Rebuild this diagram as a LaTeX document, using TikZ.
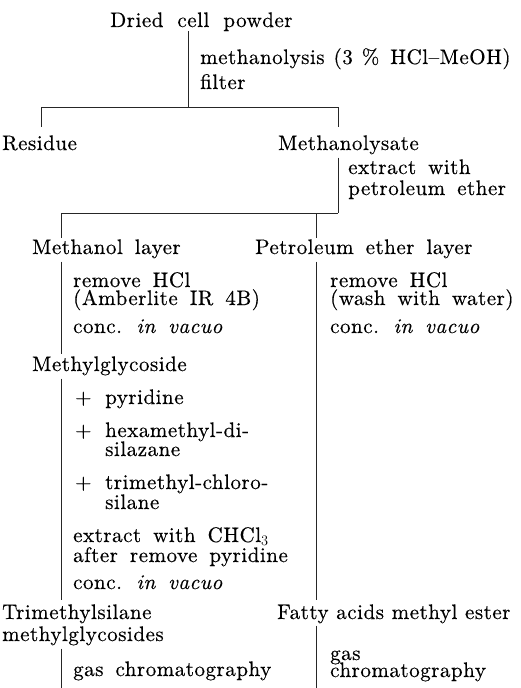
\documentclass[tikz,border=0pt]{standalone}
\usepackage{fontspec}
\setmainfont{lmroman10}[Extension=.otf, UprightFont=*-regular, ItalicFont=*-italic, BoldFont=*-bold, LetterSpace=2.5, WordSpace=1.6, FakeBold=0.4]
\usetikzlibrary{calc}
\newcommand\tightsp{\spaceskip=7.7pt plus 2pt minus 1pt\relax}
\newcommand\medsp{\spaceskip=9pt plus 2pt minus 1pt\relax}
\begin{document}
\begin{tikzpicture}[x=1pt,y=-1pt,
  txt/.style={inner sep=0pt, anchor=base west, font=\fontsize{21}{20}\selectfont},
  conn/.style={line width=0.9pt, black!85}]
\useasboundingbox (0,0) rectangle (521,688);
% texts
\node[txt] (dried) at (110,27) {Dried\hspace{2pt} cell\hspace{2pt} powder};
\node[txt] (meth)  at (200,64) {\medsp methanolysis (3 \% \hspace{2pt}HCl–MeOH)};
\node[txt] (filt)  at (200,89) {filter};
\node[txt] (resid) at (2,150) {Residue};
\node[txt] (mlys)  at (278,150) {Methanolysate};
\node[txt] (ext1)  at (348,174) {extract with};
\node[txt] (ext2)  at (348,195) {petroleum ether};
\node[txt] (mlay)  at (32,254) {Methanol layer};
\node[txt] (play)  at (255,254) {Petroleum ether layer};
\node[txt] (rmA)   at (73,287) {remove HCl};
\node[txt] (amb)   at (73,305) {(Amberlite IR 4B)};
\node[txt] (concA) at (73,333) {conc. \textit{in vacuo}};
\node[txt] (rmB)   at (330,287) {remove HCl};
\node[txt] (wash)  at (330,305) {(wash with water)};
\node[txt] (concB) at (330,333) {conc. \textit{in vacuo}};
\node[txt] (mgly)  at (32,371) {Methylglycoside};
\node[txt] (plA)   at (75,404) {+};
\node[txt] (pyr)   at (105,404) {pyridine};
\node[txt] (plB)   at (75,437) {+};
\node[txt] (hexA)  at (105,437) {hexamethyl-di-};
\node[txt] (hexB)  at (105,456) {silazane};
\node[txt] (plC)   at (75,489) {+};
\node[txt] (triA)  at (105,489) {trimethyl-chloro-};
\node[txt] (triB)  at (105,509) {silane};
\node[txt] (extA)  at (73,542) {extract with CHCl$_3$};
\node[txt] (extB)  at (73,562) {after remove pyridine};
\node[txt] (concC) at (73,589) {conc. \textit{in vacuo}};
\node[txt] (tmsA)  at (2,619) {Trimethylsilane};
\node[txt] (tmsB)  at (2,641) {methylglycosides};
\node[txt] (gcA)   at (73,676) {gas chromatography};
\node[txt] (fame)  at (277,619) {\tightsp Fatty acids methyl ester};
\node[txt] (gasB)  at (330,660) {gas};
\node[txt] (gcB)   at (330,677) {chromatography};
% junctions
\coordinate (j1) at (188,107);
\coordinate (jL1) at (41,107);
\coordinate (jR1) at (338,107);
\coordinate (j2) at (338,213);
\coordinate (jL2) at (61,213);
\coordinate (jR2) at (316,213);
\coordinate (xL) at (61,0);
\coordinate (xR) at (316,0);
\coordinate (bot) at (0,688);
% connectors
\draw[conn] (dried.south -| j1) -- (j1);
\draw[conn] (jL1) -- (jR1);
\draw[conn] (jL1) -- ($(resid.north -| jL1)+(0,-8)$);
\draw[conn] (jR1) -- ($(mlys.north -| jR1)+(0,-8)$);
\draw[conn] ($(mlys.south -| j2)+(0,3)$) -- (j2);
\draw[conn] (jL2) -- (j2);
\draw[conn] (jL2) -- ($(mlay.north -| jL2)+(0,-1)$);
\draw[conn] (jR2) -- ($(play.north -| jR2)+(0,-1)$);
\draw[conn] ($(mlay.south -| xL)+(0,3)$) -- ($(mgly.north -| xL)+(0,-2)$);
\draw[conn] ($(play.south -| xR)+(0,3)$) -- ($(fame.north -| xR)+(0,-4)$);
\draw[conn] ($(mgly.south -| xL)+(0,3)$) -- ($(tmsA.north -| xL)+(0,-4)$);
\draw[conn] ($(tmsB.south -| xL)+(0,3)$) -- (bot -| xL);
\draw[conn] ($(fame.south -| xR)+(0,2)$) -- (bot -| xR);
\end{tikzpicture}
\end{document}
